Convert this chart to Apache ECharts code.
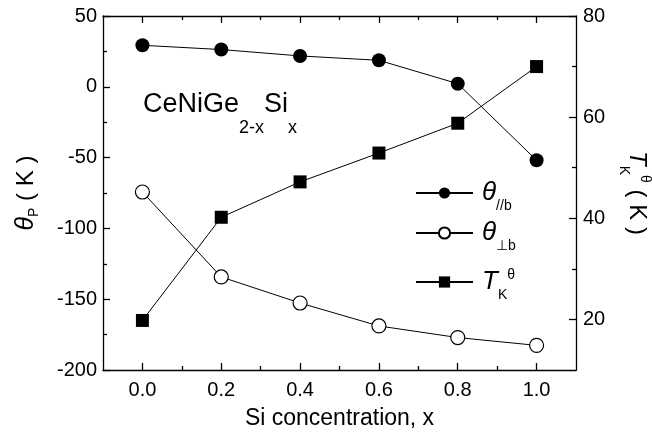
<!DOCTYPE html>
<html>
<head>
<meta charset="utf-8">
<script src="https://cdn.jsdelivr.net/npm/echarts@6/dist/echarts.min.js"></script>
<style>html,body{margin:0;padding:0;background:#fff}#c{width:652px;height:434px}</style>
</head>
<body>
<div id="c"></div>
<script>
// ---- data ----
const siX = [0.0, 0.2, 0.4, 0.6, 0.8, 1.0];
const thetaPar = [29.3, 26.3, 21.8, 18.7, 2.2, -51.9];      // θ//b (K), left axis
const thetaPerp = [-74.3, -134.3, -152.7, -168.9, -177.1, -182.6]; // θ⊥b (K), left axis
const tkTheta = [19.8, 40.2, 47.2, 52.9, 58.8, 70.0];      // T_K^θ (K), right axis
const xMajorTicks = [0.0, 0.2, 0.4, 0.6, 0.8, 1.0];
const xMinorTicks = [0.1, 0.3, 0.5, 0.7, 0.9];
const rightMajorTicks = [20, 40, 60, 80];
const rightMinorTicks = [30, 50, 70];
const seriesNames = ['θ//b', 'θ⊥b', 'TKθ'];

const FONT = 'Arial, "Liberation Sans", Helvetica, sans-serif';
const BLACK = '#000';
const pairs = (ys) => siX.map((x, i) => [x, ys[i]]);

const lineAx = { show: true, onZero: false, lineStyle: { color: BLACK, width: 1.3 } };
const noLine = { show: false, onZero: false };
function xAx(pos, ticks, len, showLine, labels) {
  const a = {
    type: 'value', position: pos, min: -0.1, max: 1.1,
    axisLine: showLine ? lineAx : noLine,
    axisTick: { show: true, inside: true, length: len, customValues: ticks, lineStyle: { color: BLACK, width: 1.3 } },
    axisLabel: { show: false },
    splitLine: { show: false }
  };
  if (labels) {
    a.axisLabel = { show: true, customValues: ticks, formatter: v => Number(v).toFixed(1), color: BLACK, fontSize: 20, fontFamily: FONT, margin: 10 };
    a.name = 'Si concentration, x';
    a.nameLocation = 'middle';
    a.nameGap = 29;
    a.nameTextStyle = { color: BLACK, fontSize: 23, fontFamily: FONT, lineHeight: 28 };
  }
  return a;
}

const option = {
  animation: false,
  backgroundColor: '#fff',
  textStyle: { fontFamily: FONT, color: BLACK },
  grid: { left: 103, right: 76, top: 16, bottom: 64, containLabel: false, outerBoundsMode: 'none' },
  xAxis: [
    xAx('bottom', xMajorTicks, 7, true, true),
    xAx('bottom', xMinorTicks, 4, false, false),
    xAx('top', xMajorTicks, 7, true, false),
    xAx('top', xMinorTicks, 4, false, false)
  ],
  yAxis: [
    {
      type: 'value', position: 'left', min: -200, max: 50, interval: 50,
      axisLine: lineAx,
      axisTick: { show: true, inside: true, length: 7, lineStyle: { color: BLACK, width: 1.3 } },
      minorTick: { show: true, splitNumber: 2, length: 4, lineStyle: { color: BLACK, width: 1.3 } },
      axisLabel: { color: BLACK, fontSize: 20, fontFamily: FONT, margin: 6 },
      splitLine: { show: false },
      name: '{t|θ}{s|P}{n| ( K )}',
      nameLocation: 'middle', nameRotate: 90, nameGap: 62,
      nameTextStyle: {
        color: BLACK, fontFamily: FONT,
        rich: {
          t: { fontSize: 25, fontStyle: 'italic', lineHeight: 30, fontFamily: FONT },
          s: { fontSize: 14, lineHeight: 18, verticalAlign: 'bottom', fontFamily: FONT },
          n: { fontSize: 24, lineHeight: 30, fontFamily: FONT }
        }
      }
    },
    {
      type: 'value', position: 'right', min: 10, max: 80,
      axisLine: lineAx,
      axisTick: { show: true, inside: true, length: 7, customValues: rightMajorTicks, lineStyle: { color: BLACK, width: 1.3 } },
      axisLabel: { show: true, customValues: rightMajorTicks, color: BLACK, fontSize: 20, fontFamily: FONT, margin: 7 },
      splitLine: { show: false },
      name: '{t|T}{k|K}{u|θ}{n| ( K )}',
      nameLocation: 'middle', nameRotate: -90, nameGap: 41,
      nameTextStyle: {
        color: BLACK, fontFamily: FONT,
        rich: {
          t: { fontSize: 24, fontStyle: 'italic', lineHeight: 40, fontFamily: FONT },
          k: { fontSize: 14, lineHeight: 15, verticalAlign: 'bottom', fontFamily: FONT },
          u: { fontSize: 14, lineHeight: 14, verticalAlign: 'top', padding: [5, 0, 0, 0], fontFamily: FONT },
          n: { fontSize: 24, lineHeight: 40, fontFamily: FONT }
        }
      }
    },
    {
      type: 'value', position: 'right', min: 10, max: 80,
      axisLine: noLine,
      axisTick: { show: true, inside: true, length: 4, customValues: rightMinorTicks, lineStyle: { color: BLACK, width: 1.3 } },
      axisLabel: { show: false },
      splitLine: { show: false }
    }
  ],
  legend: [
    {
      left: 415, top: 180, orient: 'vertical', padding: 0, itemWidth: 57, itemHeight: 14, selectedMode: false,
      data: [seriesNames[0]], formatter: '{t|θ}{s|//b}',
      textStyle: { rich: {
        t: { fontSize: 26, fontStyle: 'italic', lineHeight: 40, padding: [0, 0, 0, 4], fontFamily: FONT, color: BLACK },
        s: { fontSize: 14, lineHeight: 14, verticalAlign: 'bottom', fontFamily: FONT, color: BLACK } } }
    },
    {
      left: 415, top: 220, orient: 'vertical', padding: 0, itemWidth: 57, itemHeight: 14, selectedMode: false,
      data: [seriesNames[1]], formatter: '{t|θ}{s|⊥b}',
      textStyle: { rich: {
        t: { fontSize: 26, fontStyle: 'italic', lineHeight: 40, padding: [0, 0, 0, 4], fontFamily: FONT, color: BLACK },
        s: { fontSize: 14, lineHeight: 14, verticalAlign: 'bottom', fontFamily: FONT, color: BLACK } } }
    },
    {
      left: 415, top: 262, orient: 'vertical', padding: 0, itemWidth: 57, itemHeight: 14, selectedMode: false,
      data: [seriesNames[2]], formatter: '{t|T}{k|K}{u|θ}',
      textStyle: { rich: {
        t: { fontSize: 26, fontStyle: 'italic', lineHeight: 40, padding: [0, 0, 0, 4], fontFamily: FONT, color: BLACK },
        k: { fontSize: 14, lineHeight: 14, verticalAlign: 'bottom', fontFamily: FONT, color: BLACK },
        u: { fontSize: 14, lineHeight: 14, verticalAlign: 'top', padding: [6, 0, 0, 0], fontFamily: FONT, color: BLACK } } }
    }
  ],
  graphic: [
    {
      type: 'text', left: 143, top: 91, z: 10,
      style: {
        text: '{a|CeNiGe}{b|2-x}{a|Si}{b|x}',
        rich: {
          a: { fontSize: 27, lineHeight: 66, fontFamily: FONT, fill: BLACK, verticalAlign: 'middle' },
          b: { fontSize: 18, lineHeight: 18, fontFamily: FONT, fill: BLACK, verticalAlign: 'bottom' }
        }
      }
    }
  ],
  series: [
    {
      name: seriesNames[0], type: 'line', xAxisIndex: 0, yAxisIndex: 0,
      data: pairs(thetaPar), symbol: 'circle', symbolSize: 14,
      itemStyle: { color: BLACK }, lineStyle: { color: BLACK, width: 1 }, z: 3
    },
    {
      name: seriesNames[1], type: 'line', xAxisIndex: 0, yAxisIndex: 0,
      data: pairs(thetaPerp), symbol: 'circle', symbolSize: 14,
      itemStyle: { color: '#fff', borderColor: BLACK, borderWidth: 1.2 }, lineStyle: { color: BLACK, width: 1 }, z: 3
    },
    {
      name: seriesNames[2], type: 'line', xAxisIndex: 0, yAxisIndex: 1,
      data: pairs(tkTheta), symbol: 'rect', symbolSize: 13,
      itemStyle: { color: BLACK }, lineStyle: { color: BLACK, width: 1 }, z: 3
    }
  ]
};
const chart = echarts.init(document.getElementById('c'), null, { renderer: 'canvas' });
chart.setOption(option);
</script>
</body>
</html>
